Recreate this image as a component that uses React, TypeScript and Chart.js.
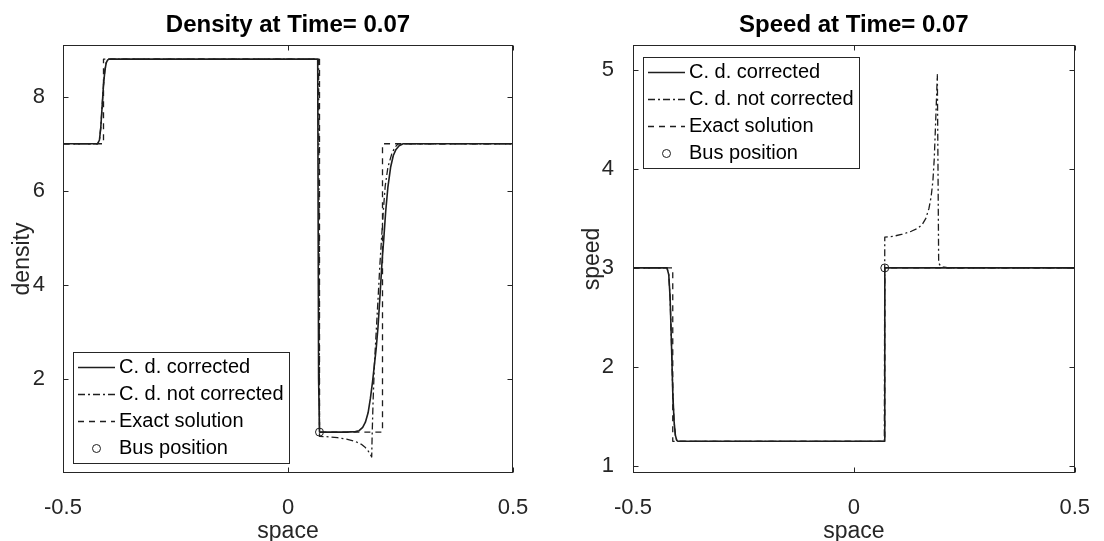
import React, { useEffect, useRef } from "react";
import { Chart, registerables } from "chart.js";

Chart.register(...registerables);

// ---------------- data ----------------
const legendLabels = ["C. d. corrected", "C. d. not corrected", "Exact solution", "Bus position"];
const spaceTicks = [-0.5, 0, 0.5];
const densityTicks = [2, 4, 6, 8];
const speedTicks = [1, 2, 3, 4, 5];

const busX = [0.07];
const densityBusY = [0.87];
const speedBusY = [3.0];

const densityCorrectedX = [-0.5, -0.423, -0.419, -0.416, -0.413, -0.41, -0.407, -0.404, -0.401, -0.398, 0.066, 0.068, 0.07, 0.1, 0.13, 0.15, 0.158, 0.166, 0.172, 0.178, 0.183, 0.188, 0.192, 0.196, 0.2, 0.204, 0.209, 0.213, 0.217, 0.222, 0.228, 0.234, 0.24, 0.247, 0.256, 0.5];
const densityCorrectedY = [7, 7, 7.08, 7.35, 7.8, 8.25, 8.55, 8.72, 8.78, 8.8, 8.8, 2.0, 0.87, 0.87, 0.87, 0.88, 0.9, 0.97, 1.08, 1.28, 1.58, 1.95, 2.3, 2.65, 3.1, 3.7, 4.5, 5.0, 5.55, 6.08, 6.5, 6.75, 6.88, 6.96, 7.0, 7.0];

const densityNotCorrectedX = [-0.5, -0.423, -0.419, -0.416, -0.413, -0.41, -0.407, -0.404, -0.401, -0.398, 0.068, 0.07, 0.09, 0.11, 0.13, 0.15, 0.163, 0.172, 0.178, 0.182, 0.186, 0.187, 0.189, 0.192, 0.196, 0.2, 0.204, 0.208, 0.212, 0.216, 0.222, 0.231, 0.238, 0.245, 0.5];
const densityNotCorrectedY = [7, 7, 7.08, 7.35, 7.8, 8.25, 8.55, 8.72, 8.78, 8.8, 8.8, 0.78, 0.77, 0.75, 0.72, 0.67, 0.61, 0.54, 0.47, 0.41, 0.34, 0.8, 1.5, 2.3, 3.0, 3.68, 4.4, 5.0, 5.6, 6.1, 6.5, 6.8, 6.93, 7.0, 7.0];

const densityExactX = [-0.5, -0.41, -0.41, 0.07, 0.07, 0.21, 0.21, 0.5];
const densityExactY = [7, 7, 8.8, 8.8, 0.87, 0.87, 7, 7];

const speedCorrectedX = [-0.5, -0.423, -0.419, -0.416, -0.413, -0.41, -0.407, -0.404, -0.401, -0.398, 0.069, 0.07, 0.5];
const speedCorrectedY = [3, 3, 2.93, 2.7, 2.25, 1.75, 1.45, 1.31, 1.26, 1.25, 1.25, 3.0, 3.0];

const speedNotCorrectedX = [-0.5, -0.423, -0.419, -0.416, -0.413, -0.41, -0.407, -0.404, -0.401, -0.398, 0.069, 0.07, 0.09, 0.11, 0.13, 0.145, 0.155, 0.163, 0.17, 0.175, 0.179, 0.182, 0.185, 0.187, 0.189, 0.192, 0.196, 0.202, 0.215, 0.5];
const speedNotCorrectedY = [3, 3, 2.93, 2.7, 2.25, 1.75, 1.45, 1.31, 1.26, 1.25, 1.25, 3.31, 3.32, 3.34, 3.37, 3.4, 3.44, 3.5, 3.6, 3.72, 3.88, 4.1, 4.45, 4.7, 4.95, 3.05, 3.02, 3.01, 3.0, 3.0];

const speedExactX = [-0.5, -0.41, -0.41, 0.07, 0.07, 0.5];
const speedExactY = [3, 3, 1.25, 1.25, 3, 3];

// ---------------- styling ----------------
const FONT = '"Liberation Sans", Arial, Helvetica, sans-serif';
const AXIS_COLOR = "#262626";
const LINE_COLOR = "#1e1e1e";

const pts = (xs: number[], ys: number[]) => xs.map((x, i) => ({ x, y: ys[i] }));

const matlabPlugin = {
  id: "matlab",
  afterDatasetsDraw(chart: any, _args: any, opts: any) {
    const { ctx, chartArea: a } = chart;
    const xs = chart.scales.x;
    const ys = chart.scales.y;
    ctx.save();

    // frame + inward ticks on all four sides
    const L = Math.round(a.left) + 0.5;
    const R = Math.round(a.right) - 0.5;
    const T = Math.round(a.top) + 0.5;
    const B = Math.round(a.bottom) - 0.5;
    ctx.strokeStyle = AXIS_COLOR;
    ctx.lineWidth = 1;
    ctx.setLineDash([]);
    ctx.strokeRect(L, T, R - L, B - T);
    ctx.beginPath();
    xs.ticks.forEach((t: any) => {
      const p = Math.round(xs.getPixelForValue(t.value)) + 0.5;
      ctx.moveTo(p, B); ctx.lineTo(p, B - 5);
      ctx.moveTo(p, T); ctx.lineTo(p, T + 5);
    });
    ys.ticks.forEach((t: any) => {
      const p = Math.round(ys.getPixelForValue(t.value)) + 0.5;
      ctx.moveTo(L, p); ctx.lineTo(L + 5, p);
      ctx.moveTo(R, p); ctx.lineTo(R - 5, p);
    });
    ctx.stroke();

    // title, centred over the axes
    ctx.fillStyle = "#000";
    ctx.font = `bold ${opts.titleSize}px ${FONT}`;
    ctx.textAlign = "center";
    ctx.textBaseline = "middle";
    ctx.fillText(opts.title, (a.left + a.right) / 2, opts.titleY);

    // legend box
    const lg = opts.legend;
    const bx = Math.round(a.left + lg.dx);
    const by = Math.round(lg.corner === "nw" ? a.top + lg.dy : a.bottom - lg.dy - lg.h);
    ctx.fillStyle = "#fff";
    ctx.fillRect(bx, by, lg.w, lg.h);
    ctx.strokeStyle = AXIS_COLOR;
    ctx.lineWidth = 1;
    ctx.strokeRect(bx + 0.5, by + 0.5, lg.w, lg.h);
    const dsets = chart.data.datasets;
    const rowH = lg.rowH;
    const y0 = by + (lg.h - dsets.length * rowH) / 2 + rowH / 2;
    ctx.font = `${lg.fontSize}px ${FONT}`;
    ctx.textAlign = "left";
    ctx.textBaseline = "middle";
    dsets.forEach((ds: any, i: number) => {
      const y = Math.round(y0 + i * rowH) + 0.5;
      ctx.strokeStyle = ds.borderColor;
      if (ds.showLine === false) {
        ctx.setLineDash([]);
        ctx.lineWidth = ds.pointBorderWidth;
        ctx.beginPath();
        ctx.arc(bx + 23.5, y, ds.pointRadius, 0, Math.PI * 2);
        ctx.stroke();
      } else {
        ctx.setLineDash(ds.borderDash || []);
        ctx.lineWidth = ds.borderWidth;
        ctx.beginPath();
        ctx.moveTo(bx + 5, y);
        ctx.lineTo(bx + 42, y);
        ctx.stroke();
      }
      ctx.setLineDash([]);
      ctx.fillStyle = "#000";
      ctx.fillText(ds.label, bx + 46, y);
    });
    ctx.restore();
  },
};

function buildDatasets(
  cx: number[], cy: number[], nx: number[], ny: number[], ex: number[], ey: number[], bx: number[], by: number[]
) {
  return [
    { label: legendLabels[0], data: pts(cx, cy), borderColor: LINE_COLOR, borderWidth: 1.6, borderDash: [], pointRadius: 0, order: 4 },
    { label: legendLabels[1], data: pts(nx, ny), borderColor: LINE_COLOR, borderWidth: 1.3, borderDash: [7, 3, 2, 3], pointRadius: 0, order: 3 },
    { label: legendLabels[2], data: pts(ex, ey), borderColor: LINE_COLOR, borderWidth: 1.3, borderDash: [6, 5], pointRadius: 0, order: 2 },
    {
      label: legendLabels[3], data: pts(bx, by), showLine: false, borderColor: LINE_COLOR, backgroundColor: "rgba(0,0,0,0)",
      pointRadius: 4, pointBorderWidth: 1, pointBackgroundColor: "rgba(0,0,0,0)", pointBorderColor: LINE_COLOR, order: 1,
    },
  ];
}

function makeConfig(p: any) {
  return {
    type: "line",
    data: { datasets: p.datasets },
    options: {
      responsive: false,
      maintainAspectRatio: false,
      devicePixelRatio: 1,
      animation: false,
      events: [],
      layout: { padding: { left: 0, top: 45, right: p.padRight, bottom: 0 } },
      elements: { line: { tension: 0, borderCapStyle: "butt", borderJoinStyle: "round" } },
      plugins: {
        legend: { display: false },
        tooltip: { enabled: false },
        title: { display: false },
        matlab: { title: p.title, titleY: 25, titleSize: 24, legend: p.legend },
      },
      scales: {
        x: {
          type: "linear",
          min: -0.5,
          max: 0.5,
          grid: { display: false },
          border: { display: false },
          afterBuildTicks: (s: any) => { s.ticks = spaceTicks.map((v) => ({ value: v })); },
          afterFit: (s: any) => { s.height = 68; },
          ticks: { autoSkip: false, maxRotation: 0, padding: 14, color: AXIS_COLOR, font: { family: FONT, size: 22 } },
          title: { display: true, text: "space", color: AXIS_COLOR, padding: { top: 0, bottom: 0 }, font: { family: FONT, size: 23, lineHeight: 0.8 } },
        },
        y: {
          type: "linear",
          min: p.yMin,
          max: p.yMax,
          grid: { display: false },
          border: { display: false },
          afterBuildTicks: (s: any) => { s.ticks = p.yTicks.map((v: number) => ({ value: v })); },
          afterFit: (s: any) => { s.width = p.yAxisWidth; },
          ticks: { autoSkip: false, padding: p.yTickPad, color: AXIS_COLOR, font: { family: FONT, size: 22 } },
          title: { display: true, text: p.yLabel, color: AXIS_COLOR, padding: { top: p.yTitlePad, bottom: 0 }, font: { family: FONT, size: 23 } },
        },
      },
    },
    plugins: [matlabPlugin],
  };
}

function ChartCanvas({ config, width, height, left }: any) {
  const ref = useRef<HTMLCanvasElement | null>(null);
  useEffect(() => {
    if (!ref.current) return;
    const chart = new Chart(ref.current, config);
    return () => chart.destroy();
  }, []);
  return (
    <canvas
      ref={ref}
      width={width}
      height={height}
      style={{ position: "absolute", left, top: 0, width, height }}
    />
  );
}

export default function App() {
  const densityConfig = makeConfig({
    title: "Density at Time= 0.07",
    yLabel: "density",
    yMin: 0,
    yMax: 9.1,
    yTicks: densityTicks,
    yAxisWidth: 63,
    yTickPad: 10,
    yTitlePad: 9,
    padRight: 60,
    legend: { corner: "sw", dx: 10, dy: 10, w: 216, h: 111, rowH: 27, fontSize: 20 },
    datasets: buildDatasets(
      densityCorrectedX, densityCorrectedY,
      densityNotCorrectedX, densityNotCorrectedY,
      densityExactX, densityExactY,
      busX, densityBusY
    ),
  });
  const speedConfig = makeConfig({
    title: "Speed at Time= 0.07",
    yLabel: "speed",
    yMin: 0.93,
    yMax: 5.25,
    yTicks: speedTicks,
    yAxisWidth: 60,
    yTickPad: 11,
    yTitlePad: 6,
    padRight: 21,
    legend: { corner: "nw", dx: 10, dy: 12, w: 216, h: 111, rowH: 27, fontSize: 20 },
    datasets: buildDatasets(
      speedCorrectedX, speedCorrectedY,
      speedNotCorrectedX, speedNotCorrectedY,
      speedExactX, speedExactY,
      busX, speedBusY
    ),
  });
  return (
    <div style={{ position: "fixed", left: 0, top: 0, width: 1104, height: 541, background: "#fff", overflow: "hidden" }}>
      <ChartCanvas config={densityConfig} width={573} height={541} left={0} />
      <ChartCanvas config={speedConfig} width={531} height={541} left={573} />
    </div>
  );
}
